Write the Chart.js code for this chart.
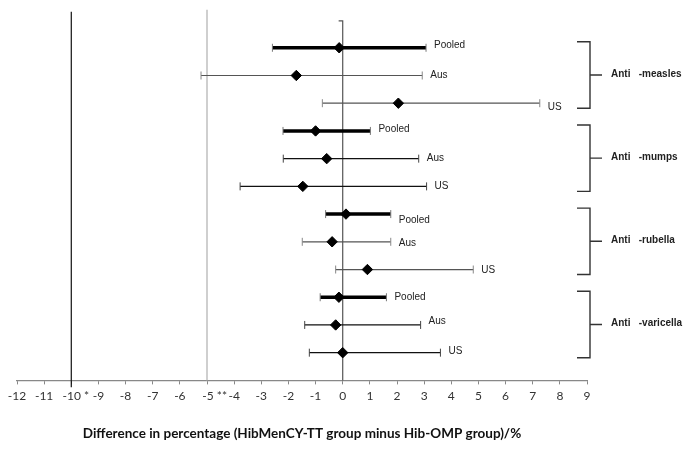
<!DOCTYPE html>
<html>
<head>
<meta charset="utf-8">
<script src="https://cdn.jsdelivr.net/npm/chart.js@4.4.0/dist/chart.umd.min.js"></script>
<style>
  body { margin: 0; background: #fff; }
  #wrap { width: 687px; height: 450px; }
</style>
</head>
<body>
<div id="wrap"><canvas id="myChart"></canvas></div>
<script>
// groups of three rows each (Pooled, Aus, US)
var groups = ['Anti   -measles', 'Anti   -mumps', 'Anti   -rubella', 'Anti   -varicella'];
var studies = ['Pooled', 'Aus', 'US', 'Pooled', 'Aus', 'US', 'Pooled', 'Aus', 'US', 'Pooled', 'Aus', 'US'];
var estimate = [-0.13, -1.71, 2.05, -1.0, -0.59, -1.47, 0.12, -0.39, 0.91, -0.14, -0.26, 0.0];
var lower = [-2.59, -5.22, -0.75, -2.2, -2.19, -3.78, -0.63, -1.49, -0.26, -0.83, -1.4, -1.23];
var upper = [3.07, 2.93, 7.26, 1.02, 2.8, 3.09, 1.77, 1.77, 4.81, 1.61, 2.87, 3.6];
var refLines = [-10, -5, 0];
var xMin = -12, xMax = 9;
var tickNames = { '-10': '   -10 *', '-5': '     -5 **' };

// styles
var lineColors = ['#000', '#555', '#555', '#000', '#111', '#111', '#000', '#555', '#555', '#000', '#111', '#111'];
var capColors = ['#777', '#888', '#888', '#777', '#444', '#444', '#777', '#888', '#888', '#777', '#444', '#444'];
var labelDy = [-3, 0, 4, -2, 0, 0, 6, 1, 1, 0, -4, -1];
var refColors = ['#111', '#b0b0b0', '#555'];

var datasets = [];

// diamonds first so they are drawn on top
datasets.push({
  type: 'scatter',
  data: estimate.map(function (v, i) { return { x: v, y: i }; }),
  pointStyle: 'rectRot',
  pointRadius: 5.2,
  backgroundColor: '#000',
  borderColor: '#000',
  borderWidth: 1
});

studies.forEach(function (s, i) {
  datasets.push({
    type: 'scatter',
    showLine: true,
    data: [{ x: lower[i], y: i }, { x: upper[i], y: i }],
    borderColor: lineColors[i],
    borderWidth: s === 'Pooled' ? 3.5 : 1.2,
    pointStyle: 'line',
    rotation: 90,
    pointRadius: 4,
    pointBorderColor: capColors[i],
    pointBorderWidth: 1
  });
});

// reference lines
var refTop = [-1.3, -1.37, -0.97];
var refBottom = [12.25, 12, 12];
refLines.forEach(function (r, k) {
  var pts = [{ x: r, y: refTop[k] }, { x: r, y: refBottom[k] }];
  if (r === 0) pts.unshift({ x: -0.15, y: refTop[k] });
  datasets.push({
    type: 'scatter',
    showLine: true,
    data: pts,
    borderColor: refColors[k],
    borderWidth: 1.2,
    pointRadius: 0,
    clip: false
  });
});

var annot = {
  id: 'annot',
  afterDatasetsDraw: function (chart) {
    var ctx = chart.ctx, xs = chart.scales.x, ys = chart.scales.y;
    ctx.save();
    ctx.fillStyle = '#222';
    ctx.font = '10px "Liberation Sans", Arial, sans-serif';
    ctx.textBaseline = 'middle';
    ctx.textAlign = 'left';
    studies.forEach(function (s, i) {
      ctx.fillText(s, xs.getPixelForValue(upper[i]) + 8, ys.getPixelForValue(i) + labelDy[i]);
    });
    // brackets
    var bx = 590;
    ctx.strokeStyle = '#333';
    ctx.lineWidth = 1.4;
    ctx.font = 'bold 10px "Liberation Sans", Arial, sans-serif';
    groups.forEach(function (g, k) {
      var t = ys.getPixelForValue(k * 3) - 6;
      var b = ys.getPixelForValue(k * 3 + 2) + 5;
      var m = (t + b) / 2;
      ctx.beginPath();
      ctx.moveTo(bx - 13, t); ctx.lineTo(bx, t); ctx.lineTo(bx, b); ctx.lineTo(bx - 13, b);
      ctx.moveTo(bx, m); ctx.lineTo(bx + 12, m);
      ctx.stroke();
      ctx.fillText(g, bx + 21, m - 1);
    });
    ctx.restore();
  }
};

new Chart(document.getElementById('myChart'), {
  data: { datasets: datasets },
  options: {
    responsive: true,
    maintainAspectRatio: false,
    animation: false,
    layout: { padding: { left: 17, right: 100, top: 6, bottom: 0 } },
    plugins: { legend: { display: false }, tooltip: { enabled: false } },
    scales: {
      x: {
        type: 'linear',
        min: xMin,
        max: xMax,
        ticks: {
          stepSize: 1,
          autoSkip: false,
          maxRotation: 0,
          padding: 5,
          color: '#333',
          font: { family: 'Lato', size: 12 },
          callback: function (v) { return tickNames[String(v)] || String(v); }
        },
        grid: { drawOnChartArea: false, drawTicks: true, tickLength: 4, tickColor: '#888' },
        border: { color: '#888', width: 1.2 },
        title: {
          display: true,
          text: 'Difference in percentage (HibMenCY-TT group minus Hib-OMP group)/%',
          color: '#111',
          font: { family: 'Lato', size: 13.5, weight: 'bold' },
          padding: { top: 17, bottom: 8 }
        }
      },
      y: {
        type: 'linear',
        display: false,
        reverse: true,
        min: -1.5,
        max: 12
      }
    }
  },
  plugins: [annot]
});
</script>
</body>
</html>
